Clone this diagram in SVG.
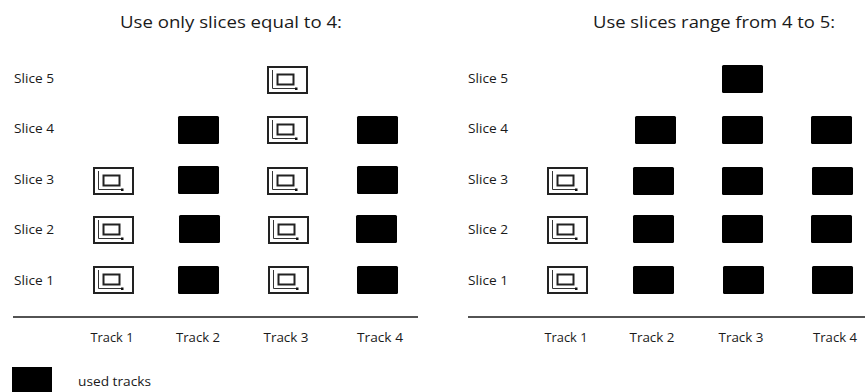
<svg xmlns="http://www.w3.org/2000/svg" xmlns:xlink="http://www.w3.org/1999/xlink" width="865" height="392" viewBox="0 0 865 392">
<style>
text{font-family:"Open Sans","Liberation Sans",sans-serif;fill:#1a1a1a}
.title{font-size:17px}
.lbl{font-size:12.5px}
.used{fill:#000}
.axis{stroke:#1a1a1a;stroke-width:1.6}
</style>
<defs>
<g id="icon">
<rect x="1" y="1" width="39" height="26" fill="#fff" stroke="#222" stroke-width="2"/>
<path d="M5.5 4 V22.5 H29" fill="none" stroke="#333" stroke-width="1"/>
<rect x="28" y="21.5" width="2.5" height="2.5" fill="#111"/>
<rect x="10.5" y="8.5" width="16" height="10" fill="none" stroke="#222" stroke-width="2"/>
</g>
<rect id="blk" x="0" y="0" width="41" height="28" rx="1.5" class="used"/>
</defs>
<rect width="865" height="392" fill="#fff"/>

<g id="left-panel">
<text class="title" x="231" y="28" text-anchor="middle" textLength="222" lengthAdjust="spacingAndGlyphs">Use only slices equal to 4:</text>
<g id="left-slice-labels">
<text class="lbl" x="14" y="82.5" textLength="40" lengthAdjust="spacingAndGlyphs">Slice 5</text>
<text class="lbl" x="14" y="133" textLength="40" lengthAdjust="spacingAndGlyphs">Slice 4</text>
<text class="lbl" x="14" y="183.5" textLength="40" lengthAdjust="spacingAndGlyphs">Slice 3</text>
<text class="lbl" x="14" y="234" textLength="40" lengthAdjust="spacingAndGlyphs">Slice 2</text>
<text class="lbl" x="14" y="284.5" textLength="40" lengthAdjust="spacingAndGlyphs">Slice 1</text>
</g>
<g id="L-s5-t3"><use xlink:href="#icon" x="267" y="66"/></g>
<g id="L-s4-t2"><use xlink:href="#blk" x="178" y="116"/></g>
<g id="L-s4-t3"><use xlink:href="#icon" x="267" y="116"/></g>
<g id="L-s4-t4"><use xlink:href="#blk" x="357" y="116"/></g>
<g id="L-s3-t1"><use xlink:href="#icon" x="93" y="167"/></g>
<g id="L-s3-t2"><use xlink:href="#blk" x="178" y="166"/></g>
<g id="L-s3-t3"><use xlink:href="#icon" x="267" y="167"/></g>
<g id="L-s3-t4"><use xlink:href="#blk" x="357" y="166"/></g>
<g id="L-s2-t1"><use xlink:href="#icon" x="93" y="216"/></g>
<g id="L-s2-t2"><use xlink:href="#blk" x="179" y="215"/></g>
<g id="L-s2-t3"><use xlink:href="#icon" x="268" y="216"/></g>
<g id="L-s2-t4"><use xlink:href="#blk" x="356" y="215"/></g>
<g id="L-s1-t1"><use xlink:href="#icon" x="93" y="266"/></g>
<g id="L-s1-t2"><use xlink:href="#blk" x="178" y="266"/></g>
<g id="L-s1-t3"><use xlink:href="#icon" x="268" y="266"/></g>
<g id="L-s1-t4"><use xlink:href="#blk" x="357" y="266"/></g>
<line class="axis" x1="13" y1="317" x2="418" y2="317"/>
<g id="left-track-labels">
<text class="lbl" x="112" y="342" text-anchor="middle" textLength="43" lengthAdjust="spacingAndGlyphs">Track 1</text>
<text class="lbl" x="198" y="342" text-anchor="middle" textLength="44" lengthAdjust="spacingAndGlyphs">Track 2</text>
<text class="lbl" x="286" y="342" text-anchor="middle" textLength="45" lengthAdjust="spacingAndGlyphs">Track 3</text>
<text class="lbl" x="380" y="342" text-anchor="middle" textLength="46" lengthAdjust="spacingAndGlyphs">Track 4</text>
</g>
</g>

<g id="right-panel">
<text class="title" x="714" y="28" text-anchor="middle" textLength="242" lengthAdjust="spacingAndGlyphs">Use slices range from 4 to 5:</text>
<g id="right-slice-labels">
<text class="lbl" x="468" y="82.5" textLength="40" lengthAdjust="spacingAndGlyphs">Slice 5</text>
<text class="lbl" x="468" y="133" textLength="40" lengthAdjust="spacingAndGlyphs">Slice 4</text>
<text class="lbl" x="468" y="183.5" textLength="40" lengthAdjust="spacingAndGlyphs">Slice 3</text>
<text class="lbl" x="468" y="234" textLength="40" lengthAdjust="spacingAndGlyphs">Slice 2</text>
<text class="lbl" x="468" y="284.5" textLength="40" lengthAdjust="spacingAndGlyphs">Slice 1</text>
</g>
<g id="R-s5-t3"><use xlink:href="#blk" x="722" y="65"/></g>
<g id="R-s4-t2"><use xlink:href="#blk" x="635" y="116"/></g>
<g id="R-s4-t3"><use xlink:href="#blk" x="722" y="116"/></g>
<g id="R-s4-t4"><use xlink:href="#blk" x="811" y="116"/></g>
<g id="R-s3-t1"><use xlink:href="#icon" x="547" y="167"/></g>
<g id="R-s3-t2"><use xlink:href="#blk" x="633" y="167"/></g>
<g id="R-s3-t3"><use xlink:href="#blk" x="722" y="167"/></g>
<g id="R-s3-t4"><use xlink:href="#blk" x="812" y="167"/></g>
<g id="R-s2-t1"><use xlink:href="#icon" x="547" y="216"/></g>
<g id="R-s2-t2"><use xlink:href="#blk" x="633" y="215"/></g>
<g id="R-s2-t3"><use xlink:href="#blk" x="722" y="215"/></g>
<g id="R-s2-t4"><use xlink:href="#blk" x="811" y="215"/></g>
<g id="R-s1-t1"><use xlink:href="#icon" x="547" y="266"/></g>
<g id="R-s1-t2"><use xlink:href="#blk" x="633" y="266"/></g>
<g id="R-s1-t3"><use xlink:href="#blk" x="723" y="266"/></g>
<g id="R-s1-t4"><use xlink:href="#blk" x="812" y="266"/></g>
<line class="axis" x1="468" y1="317" x2="865" y2="317"/>
<g id="right-track-labels">
<text class="lbl" x="566" y="342" text-anchor="middle" textLength="43" lengthAdjust="spacingAndGlyphs">Track 1</text>
<text class="lbl" x="652" y="342" text-anchor="middle" textLength="45" lengthAdjust="spacingAndGlyphs">Track 2</text>
<text class="lbl" x="741" y="342" text-anchor="middle" textLength="45" lengthAdjust="spacingAndGlyphs">Track 3</text>
<text class="lbl" x="835" y="342" text-anchor="middle" textLength="44" lengthAdjust="spacingAndGlyphs">Track 4</text>
</g>
</g>

<g id="legend">
<rect x="12" y="367" width="40" height="28" class="used"/>
<text class="lbl" x="78" y="386" textLength="73" lengthAdjust="spacingAndGlyphs">used tracks</text>
</g>
</svg>
